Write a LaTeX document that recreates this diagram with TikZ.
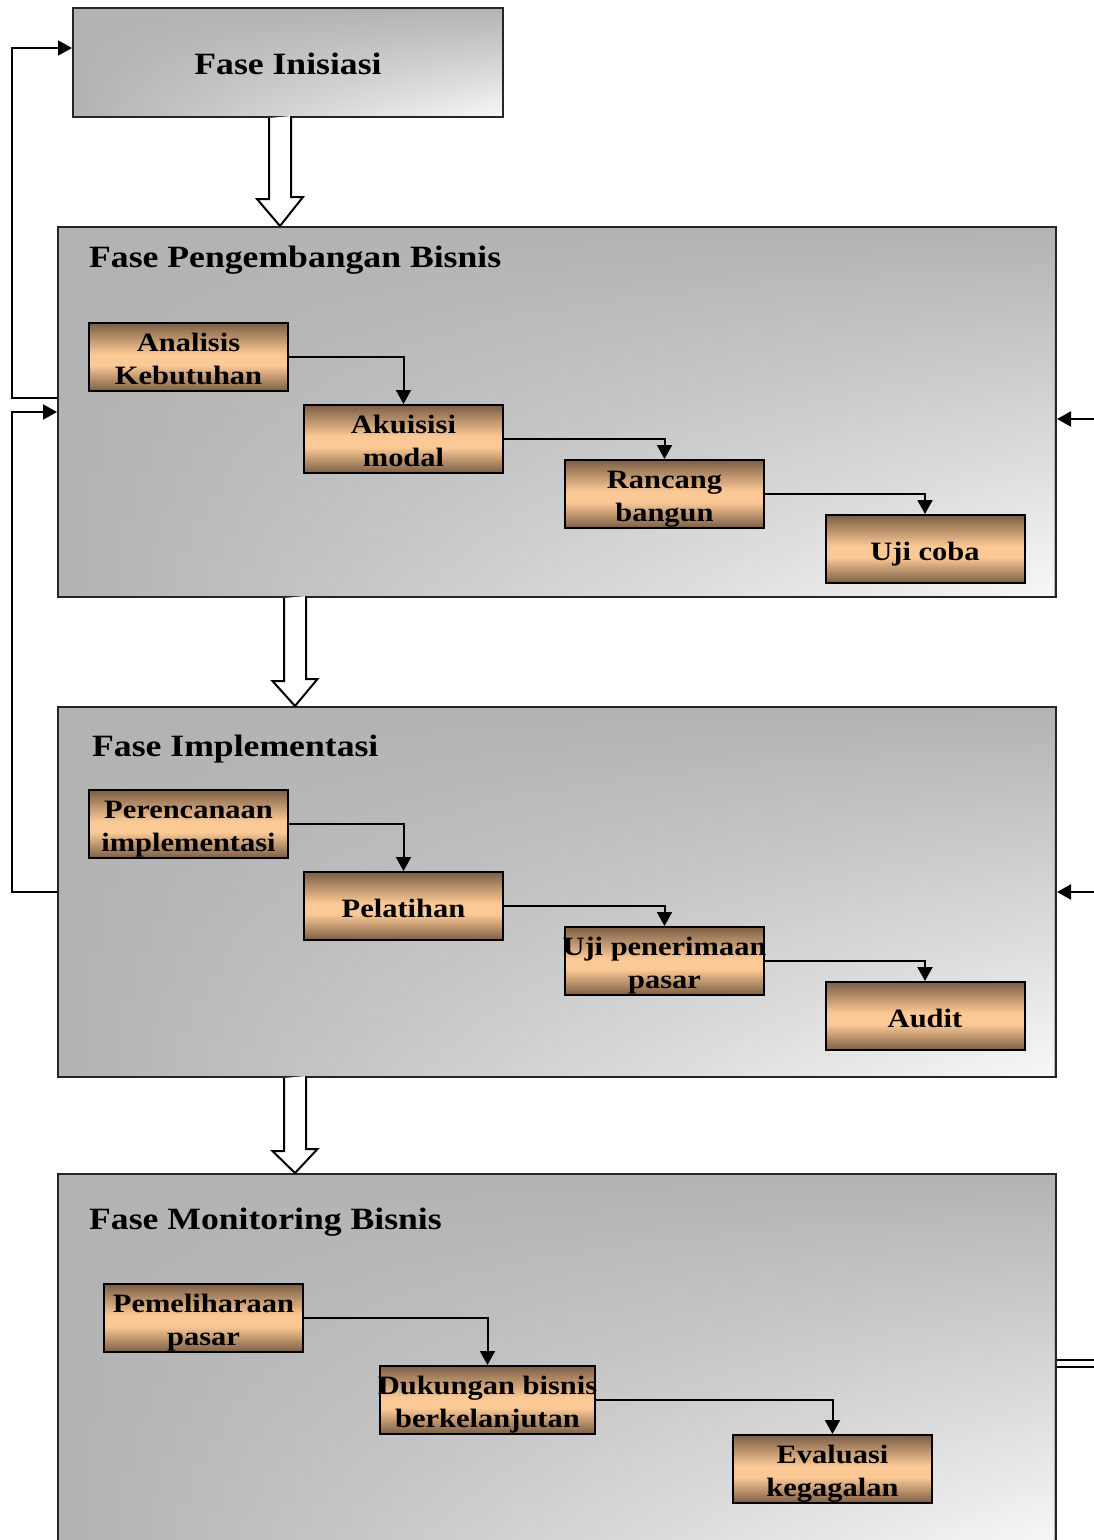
\documentclass[tikz,border=0pt]{standalone}
\usepackage{fontspec}
\setmainfont{Liberation Serif}[FakeStretch=1.15]
\usetikzlibrary{arrows.meta,fadings}

% panel and bar colours
\definecolor{panelDark}{HTML}{B3B3B3}
\definecolor{panelLight}{HTML}{F8F8F8}
\definecolor{barDark}{HTML}{7C5E45}
\definecolor{barPeach}{HTML}{FBC995}

% brown bar: dark top and bottom, peach band a little below the middle
\pgfdeclareverticalshading{bargrad}{100bp}{color(0bp)=(barDark); color(25bp)=(barDark); color(44bp)=(barPeach); color(52bp)=(barPeach); color(75bp)=(barDark); color(100bp)=(barDark)}

% fixed line box so every step label sits at the same height
\newcommand\boxstrut{\rule[-2pt]{0pt}{26pt}}
\newcommand\bline[1]{\makebox[0pt]{\boxstrut\smash{#1}}}

\tikzset{
  % grey panel: plain dark grey, brightening towards the lower right corner
  panel/.style={draw=black!85, line width=2pt, fill=panelDark,
    inner sep=0pt, minimum width=998pt, minimum height=370pt,
    path picture={\shade[left color=panelDark, right color=panelLight, path fading=north]
      (path picture bounding box.south west) rectangle (path picture bounding box.north east);}},
  stepbox/.style={draw=black, line width=2pt, shading=bargrad, inner sep=0pt,
    minimum width=199pt, minimum height=68pt, align=center,
    font={\bfseries\fontsize{26.5}{32.5}\selectfont}},
  phasetitle/.style={anchor=base west, inner sep=0pt,
    font={\bfseries\fontsize{31}{36}\selectfont}},
  conn/.style={line width=2pt, -{Triangle[length=14pt,width=15pt]}},
  hollow/.style={draw=black, line width=2pt, fill=white, line join=miter}
}

\begin{document}
\begin{tikzpicture}[x=1pt, y=-1pt]
\useasboundingbox (0,0) rectangle (1094,1540);
\clip (0,0) rectangle (1094,1540);

% phase panels
\node[panel, minimum width=430pt, minimum height=109pt, text height=23pt, text depth=0pt,
  font={\bfseries\fontsize{31}{36}\selectfont}] (init) at (288,62.5) {Fase Inisiasi};
\node[panel] (b2) at (557,412) {};
\node[panel] (b3) at (557,892) {};
\node[panel] (b4) at (557,1359) {};

\node[phasetitle] (t2) at (89,267) {Fase Pengembangan Bisnis};
\node[phasetitle] (t3) at (92,756) {Fase Implementasi};
\node[phasetitle] (t4) at (89,1229) {Fase Monitoring Bisnis};

% steps of the business development phase
\node[stepbox] (a1) at (188.5,357) {\bline{Analisis}\\\bline{Kebutuhan}};
\node[stepbox] (a2) at (403.5,439) {\bline{Akuisisi}\\\bline{modal}};
\node[stepbox] (a3) at (664.5,494) {\bline{Rancang}\\\bline{bangun}};
\node[stepbox] (a4) at (925,549) {\bline{Uji coba}};

% steps of the implementation phase
\node[stepbox] (c1) at (188.5,824) {\bline{Perencanaan}\\\bline{implementasi}};
\node[stepbox] (c2) at (403.5,906) {\bline{Pelatihan}};
\node[stepbox] (c3) at (664.5,961) {\bline{Uji penerimaan}\\\bline{pasar}};
\node[stepbox] (c4) at (925,1016) {\bline{Audit}};

% steps of the monitoring phase
\node[stepbox] (d1) at (203.5,1318) {\bline{Pemeliharaan}\\\bline{pasar}};
\node[stepbox, minimum width=215pt] (d2) at (487.5,1400) {\bline{Dukungan bisnis}\\\bline{berkelanjutan}};
\node[stepbox] (d3) at (832.5,1469) {\bline{Evaluasi}\\\bline{kegagalan}};

% step-to-step connectors
\draw[conn] (a1.east) -| (a2.north);
\draw[conn] (a2.east) -| (a3.north);
\draw[conn] (a3.east) -| (a4.north);
\draw[conn] (c1.east) -| (c2.north);
\draw[conn] (c2.east) -| (c3.north);
\draw[conn] (c3.east) -| (c4.north);
\draw[conn] (d1.east) -| (d2.north);
\draw[conn] (d2.east) -| (d3.north);

% hollow block arrows between phases
\coordinate (ax1) at (280,0);
\coordinate (ax2) at (295,0);
\draw[hollow] (init.south -| ax1) ++(-11,0) -- ++(0,81) -- ++(-12,0) -- (b2.north -| ax1)
  -- ++(23,-29) -- ++(-12,0) -- ++(0,-81);
\draw[hollow] (b2.south -| ax2) ++(-11,0) -- ++(0,83) -- ++(-11.5,0) -- (b3.north -| ax2)
  -- ++(22.5,-27) -- ++(-11.5,0) -- ++(0,-83);
\draw[hollow] (b3.south -| ax2) ++(-11,0) -- ++(0,73) -- ++(-11.5,0) -- (b4.north -| ax2)
  -- ++(22.5,-24) -- ++(-11.5,0) -- ++(0,-73);

% feedback loops on the left
\coordinate (fbL1) at (12,398);
\coordinate (fbT1) at (12,48);
\draw[conn] (b2.west |- fbL1) -- (fbL1) -- (fbT1) -- (init.west |- fbT1);
\coordinate (fbL2) at (12,892);
\coordinate (fbT2) at (12,412);
\draw[conn] (b3.west |- fbL2) -- (fbL2) -- (fbT2) -- (b2.west |- fbT2);

% returns entering from the right
\coordinate (rt2) at (1100,419);
\coordinate (rt3) at (1100,892);
\coordinate (rt4) at (1100,1363.5);
\draw[conn] (rt2) -- (b2.east |- rt2);
\draw[conn] (rt3) -- (b3.east |- rt3);
\draw[line width=2pt, double=white, double distance=5pt] (b4.east |- rt4) -- (rt4);
\end{tikzpicture}
\end{document}
